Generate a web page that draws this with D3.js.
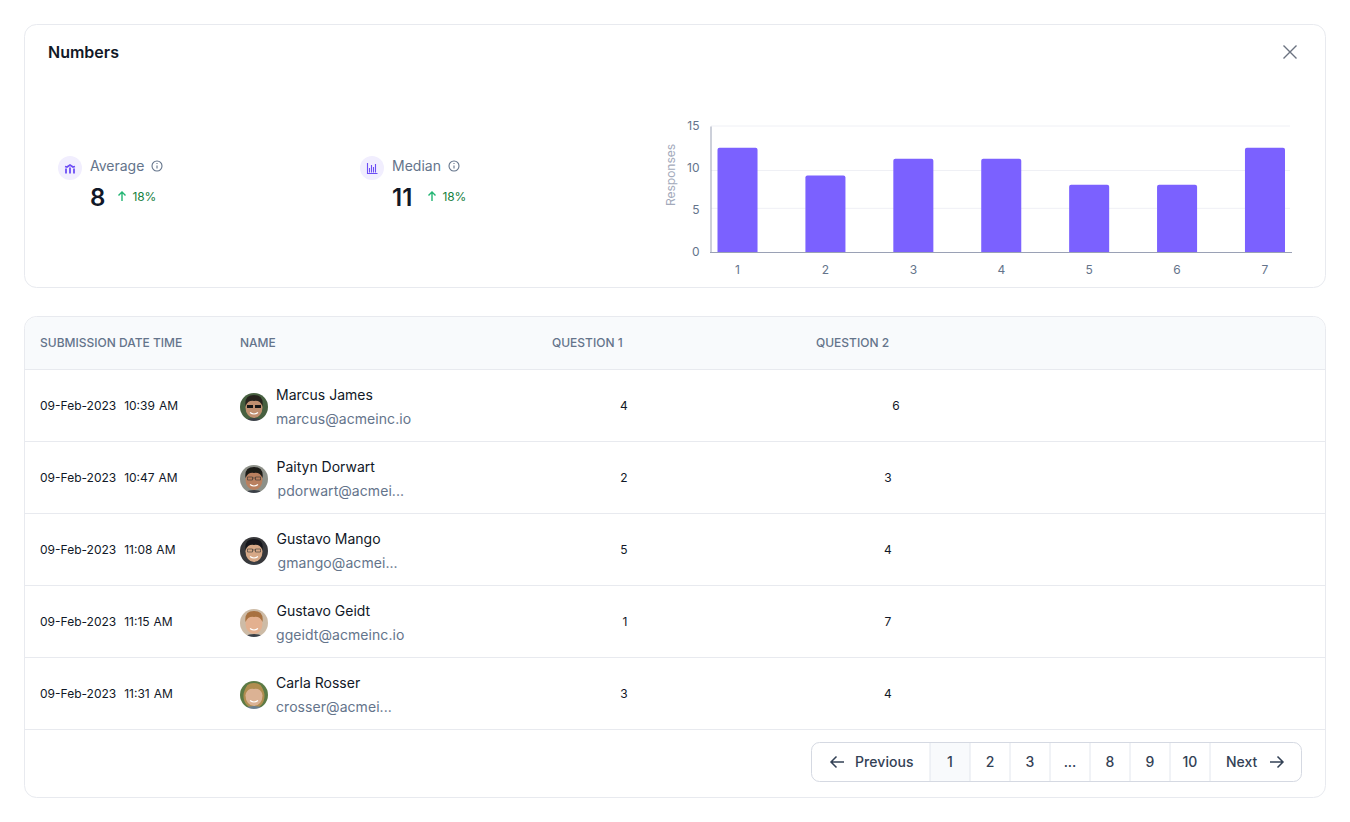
<!DOCTYPE html>
<html>
<head>
<meta charset="utf-8">
<script src="https://cdn.jsdelivr.net/npm/d3@7"></script>
<style>
  html, body { margin: 0; background: #fff; }
  svg { display: block; font-family: Inter, "Noto Sans", sans-serif; }
</style>
</head>
<body>
<svg id="page" width="1350" height="822"></svg>
<script>
"use strict";

// chart values
const responseLabels = ["1", "2", "3", "4", "5", "6", "7"];
const responseCounts = [12.4, 9.1, 11.1, 11.1, 8, 8, 12.4];
const yTicks = [0, 5, 10, 15];
const gridValues = [5.2, 9.7, 15]; // the grid lines in the picture do not sit quite on the ticks

// stats
const statLabels = ["Average", "Median"];
const statValues = ["8", "11"];
const statChanges = ["18%", "18%"];

// table
const tableHeaders = ["SUBMISSION DATE TIME", "NAME", "QUESTION 1", "QUESTION 2"];
const submitted = ["09-Feb-2023  10:39 AM", "09-Feb-2023  10:47 AM", "09-Feb-2023  11:08 AM", "09-Feb-2023  11:15 AM", "09-Feb-2023  11:31 AM"];
const names = ["Marcus James", "Paityn Dorwart", "Gustavo Mango", "Gustavo Geidt", "Carla Rosser"];
const emails = ["marcus@acmeinc.io", "pdorwart@acmei...", "gmango@acmei...", "ggeidt@acmeinc.io", "crosser@acmei..."];
const question1 = [4, 2, 5, 1, 3];
const question2 = [6, 3, 4, 7, 4];
const pageLabels = ["1", "2", "3", "...", "8", "9", "10"];

const svg = d3.select("#page");
const ink = "#111827", muted = "#64748b", line = "#e8eaef";

function card(y, h) {
  return svg.append("rect").attr("x", 24.5).attr("y", y).attr("width", 1301).attr("height", h)
    .attr("rx", 12).attr("fill", "#fff").attr("stroke", line);
}

// ---- top card
card(24.5, 263);
svg.append("text").attr("x", 48).attr("y", 58).attr("font-size", 16).attr("font-weight", 600)
  .attr("fill", ink).text("Numbers");
svg.append("path").attr("d", "M1283.5 45.5L1296.5 58.5M1296.5 45.5L1283.5 58.5")
  .attr("stroke", "#6b7280").attr("stroke-width", 1.4).attr("fill", "none");

// stat blocks
const statX = [58, 360];
const stat = svg.selectAll("g.stat").data(statLabels).enter().append("g")
  .attr("class", "stat").attr("transform", (d, i) => `translate(${statX[i]},0)`);
stat.append("circle").attr("cx", 12).attr("cy", 168).attr("r", 12).attr("fill", "#f1eefe");
stat.append("path")
  .attr("d", (d, i) => i === 0
    ? "M8 168.500v5M12 167.500v6M16 168.500v5M7 166.500l2 .5 3-2 3 2 2-.5"
    : "M7.500 163v10.500h10M9.500 168v4.500M11.500 165v7.500M13.500 167v5.500M15.500 164v8.500")
  .attr("stroke", "#6d4ef5").attr("stroke-width", (d, i) => i === 0 ? 1.8 : 1.1).attr("fill", "none");
stat.append("text").attr("x", 32).attr("y", 171).attr("font-size", 14).attr("fill", muted).text(d => d);
const infoX = [99, 94];
stat.append("circle").attr("cx", (d, i) => infoX[i]).attr("cy", 166).attr("r", 5)
  .attr("fill", "none").attr("stroke", muted).attr("stroke-width", 1.1);
stat.append("path").attr("d", (d, i) => `M${infoX[i]} 165.500v3M${infoX[i]} 163v1`)
  .attr("stroke", muted).attr("stroke-width", 1.1);
stat.append("text").attr("x", 32).attr("y", 206).attr("font-size", 24).attr("font-weight", 600)
  .attr("fill", ink).text((d, i) => statValues[i]);
const arrowX = [64, 72];
stat.append("path").attr("d", (d, i) => `M${arrowX[i]} 201v-9M${arrowX[i] - 3.5} 195.500l3.500-3.500 3.500 3.500`)
  .attr("stroke", "#22b573").attr("stroke-width", 1.4).attr("fill", "none");
stat.append("text").attr("x", (d, i) => arrowX[i] + 10.500).attr("y", 201).attr("font-size", 12)
  .attr("letter-spacing", -0.1).attr("fill", "#15803d").text((d, i) => statChanges[i]);

// bar chart
const x = d3.scaleBand().domain(responseLabels).range([717.5, 1285]).paddingInner(0.5446).paddingOuter(0);
const y = d3.scaleLinear().domain([0, 15]).range([252, 126]);

svg.append("g").selectAll("line").data(gridValues).enter().append("line")
  .attr("x1", 711).attr("x2", 1290)
  .attr("y1", d => y(d)).attr("y2", d => y(d))
  .attr("stroke", "#eff0f5");

function topRounded(bx, by, w, base, r) {
  return `M${bx} ${base}V${by + r}Q${bx} ${by} ${bx + r} ${by}H${bx + w - r}Q${bx + w} ${by} ${bx + w} ${by + r}V${base}Z`;
}
svg.append("g").selectAll("path").data(responseCounts).enter().append("path")
  .attr("d", (d, i) => topRounded(x(responseLabels[i]), y(d), x.bandwidth(), y(0), 2))
  .attr("fill", "#7b61ff");

const yAxis = svg.append("g").attr("transform", "translate(710.5,0)")
  .call(d3.axisLeft(y).tickValues(yTicks).tickSize(0).tickPadding(11));
const xAxis = svg.append("g").attr("transform", "translate(0,252.500)")
  .call(d3.axisBottom(x).tickSize(0).tickPadding(13));
yAxis.select(".domain").attr("stroke", "#9aa1b5");
xAxis.select(".domain").attr("d", "M710 0H1292").attr("stroke", "#9aa1b5");
yAxis.selectAll("text").attr("font-size", 12).attr("font-family", "Inter").attr("fill", muted);
xAxis.selectAll("text").attr("font-size", 12).attr("font-family", "Inter").attr("fill", muted);
svg.append("text").attr("transform", "translate(675,175) rotate(-90)").attr("text-anchor", "middle")
  .attr("font-size", 12).attr("fill", "#a3aabb").text("Responses");

// ---- table card
card(316.5, 481);
svg.append("path").attr("d", "M25 369.500V329a12 12 0 0 1 12-12H1313a12 12 0 0 1 12 12V369.500Z").attr("fill", "#f8fafc");

const headerX = [40, 240, 552, 816];
svg.append("g").selectAll("text").data(tableHeaders).enter().append("text")
  .attr("x", (d, i) => headerX[i]).attr("y", 347).attr("font-size", 12).attr("font-weight", 500)
  .attr("fill", muted).text(d => d);

const rowY = d3.scaleLinear().domain([0, 5]).range([369.5, 729.5]);
svg.append("g").selectAll("line").data(d3.range(6)).enter().append("line")
  .attr("x1", 25).attr("x2", 1325).attr("y1", d => rowY(d)).attr("y2", d => rowY(d))
  .attr("stroke", line);

// small left shifts seen in the reference
const nameDx = [0, 0.500, 0.500, 0.500, 0];
const emailDx = [0, 1.500, 1.500, 0, 0];
const q1Dx = [0, 0, 0, 1, 0];
const q2Dx = [8, 0, 0, 0, 0];

// flat stand-ins for the photos
const avatarLooks = [
  { bg: "#47613f", skin: "#c08f70", hair: "#26231f", shades: true },
  { bg: "#8d9088", skin: "#b9805e", hair: "#1d1a19", glasses: true },
  { bg: "#37383a", skin: "#d6a887", hair: "#17181a", glasses: true },
  { bg: "#cdbba6", skin: "#e3b08f", hair: "#a8713f" },
  { bg: "#5c7a44", skin: "#dbb294", hair: "#b08d50", long: true }
];
const defs = svg.append("defs");
defs.append("filter").attr("id", "soft").append("feGaussianBlur").attr("stdDeviation", 0.45);
const row = svg.selectAll("g.row").data(names).enter().append("g")
  .attr("class", "row").attr("transform", (d, i) => `translate(0,${rowY(i) + 0.5})`);

row.append("text").attr("x", 40).attr("y", 40).attr("font-size", 12).attr("fill", ink)
  .attr("word-spacing", 0.6).style("white-space", "pre").text((d, i) => submitted[i]);
row.append("text").attr("x", (d, i) => 276 + nameDx[i]).attr("y", 30).attr("font-size", 14)
  .attr("fill", ink).text(d => d);
row.append("text").attr("x", (d, i) => 276 + emailDx[i]).attr("y", 54).attr("font-size", 14)
  .attr("letter-spacing", 0.06).attr("fill", muted).text((d, i) => emails[i]);
row.append("text").attr("x", (d, i) => 624 + q1Dx[i]).attr("y", 40).attr("text-anchor", "middle")
  .attr("font-size", 12).attr("fill", ink).text((d, i) => question1[i]);
row.append("text").attr("x", (d, i) => 888 + q2Dx[i]).attr("y", 40).attr("text-anchor", "middle")
  .attr("font-size", 12).attr("fill", ink).text((d, i) => question2[i]);

row.each(function(d, i) {
  const look = avatarLooks[i];
  defs.append("clipPath").attr("id", `av${i}`).append("circle").attr("cx", 254).attr("cy", 37).attr("r", 14);
  const clip = d3.select(this).append("g").attr("clip-path", `url(#av${i})`);
  const a = clip.append("g").attr("filter", "url(#soft)");
  a.append("rect").attr("x", 238).attr("y", 21).attr("width", 32).attr("height", 32).attr("fill", look.bg);
  if (look.long) a.append("ellipse").attr("cx", 254).attr("cy", 38).attr("rx", 10.500).attr("ry", 12.500).attr("fill", look.hair);
  a.append("ellipse").attr("cx", 254).attr("cy", 54).attr("rx", 12).attr("ry", 6).attr("fill", look.long ? "#6b7f8e" : "#3b3f46");
  a.append("ellipse").attr("cx", 254).attr("cy", 37.500).attr("rx", 8.500).attr("ry", 10.500).attr("fill", look.skin);
  a.append("path").attr("d", "M245.500 36Q244 25 254 25Q264 25 262.500 36Q260 30 254 31Q248 30 245.500 36Z").attr("fill", look.hair);
  if (look.shades) a.append("path").attr("d", "M247 35h6v3h-6zM255 35h6v3h-6z").attr("fill", "#141414");
  if (look.glasses) a.append("path").attr("d", "M247.500 35h5v3h-5zM255.500 35h5v3h-5zM252.500 36h3").attr("fill", "none").attr("stroke", "#333").attr("stroke-width", 0.6);
  a.append("path").attr("d", "M250 42.500Q254 45.500 258 42.500").attr("fill", "none").attr("stroke", "#fff").attr("stroke-width", 1.2);
});

// ---- pagination
const pageX = d3.scaleBand().domain(pageLabels).range([930, 1210]);
svg.append("rect").attr("x", 811.5).attr("y", 742.5).attr("width", 490).attr("height", 39).attr("rx", 8)
  .attr("fill", "#fff").attr("stroke", "#d5d9e2");
svg.append("rect").attr("x", pageX("1")).attr("y", 743).attr("width", pageX.bandwidth()).attr("height", 38).attr("fill", "#f8fafc");
svg.append("g").selectAll("line").data(pageLabels.concat("end")).enter().append("line")
  .attr("x1", (d, i) => 930 + i * pageX.bandwidth()).attr("x2", (d, i) => 930 + i * pageX.bandwidth())
  .attr("y1", 743).attr("y2", 781).attr("stroke", "#e2e6ed");
svg.append("g").selectAll("text").data(pageLabels).enter().append("text")
  .attr("x", d => pageX(d) + pageX.bandwidth() / 2).attr("y", 767).attr("text-anchor", "middle")
  .attr("font-size", 14).attr("font-weight", 500).attr("fill", "#334155").text(d => d);
svg.append("text").attr("x", 855).attr("y", 767).attr("font-size", 14).attr("font-weight", 500)
  .attr("letter-spacing", 0.08).attr("fill", "#334155").text("Previous");
svg.append("text").attr("x", 1226).attr("y", 767).attr("font-size", 14).attr("font-weight", 500).attr("fill", "#334155").text("Next");
svg.append("path").attr("d", "M844 762H831M836.500 756.500L831 762L836.500 767.500M1270 762H1283M1277.500 756.500L1283 762L1277.500 767.500")
  .attr("stroke", "#334155").attr("stroke-width", 1.5).attr("fill", "none");
</script>
</body>
</html>
